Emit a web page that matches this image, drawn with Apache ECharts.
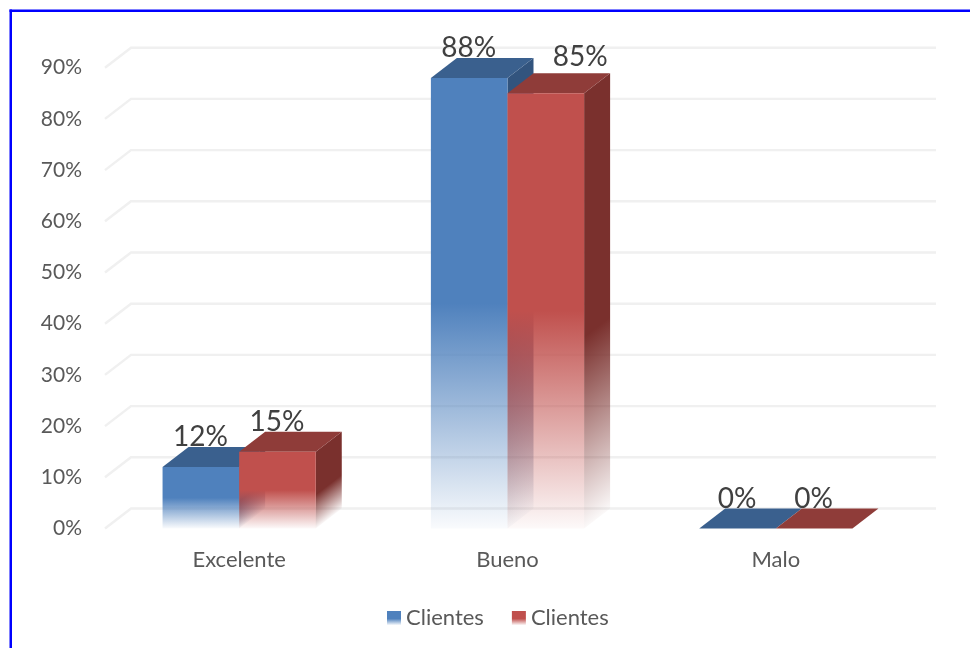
<!DOCTYPE html>
<html>
<head>
<meta charset="utf-8">
<style>html,body{margin:0;padding:0;background:#fff}#c{width:970px;height:648px}</style>
<script src="https://cdn.jsdelivr.net/npm/echarts@6/dist/echarts.min.js"></script>
</head>
<body>
<div id="c"></div>
<script>
const categories = ['Excelente', 'Bueno', 'Malo'];
const seriesA = [12, 88, 0];
const seriesB = [15, 85, 0];
const yTicks = [0, 10, 20, 30, 40, 50, 60, 70, 80, 90];
const legendLabel = 'Clientes';

const DX = 26, DY = -20, FONT = 'Lato, Carlito, "Open Sans", sans-serif';
const BLUE = { front: [79, 129, 189], top: [58, 96, 142], side: [50, 84, 126] };
const RED = { front: [192, 80, 77], top: [143, 60, 57], side: [122, 48, 45] };
const rgba = (c, a) => `rgba(${c[0]},${c[1]},${c[2]},${a})`;
const fade = (c) => [
  { offset: 0, color: rgba(c, 1) },
  { offset: 1, color: rgba(c, 0.03) }
];

function bar3d(palette, slot, shifts) {
  return function (params, api) {
    const i = api.value(0), v = api.value(1);
    const p0 = api.coord([i, 0]), p1 = api.coord([i, v]);
    const w = api.size([1, 0])[0] * 0.2855;
    const x0 = p0[0] + slot * w, x1 = x0 + w, yb = p0[1], yt = p1[1];
    const h = yb - yt, ys = yb - h * 0.5;
    const children = [];
    if (h > 0.5) {
      const sideStart = yb - h * 0.44;
      const t = (yb - sideStart) * 26 / (20 * 20 + 26 * 26);
      children.push({
        type: 'polygon',
        shape: { points: [[x1, yb], [x1 + DX, yb + DY], [x1 + DX, yt + DY], [x1, yt]] },
        style: { fill: new echarts.graphic.LinearGradient(x1, sideStart, x1 + 20 * t, sideStart + 26 * t, fade(palette.side), true) }
      });
    }
    children.push({
      type: 'polygon',
      shape: { points: [[x0, yt], [x1, yt], [x1 + DX, yt + DY], [x0 + DX, yt + DY]] },
      style: { fill: rgba(palette.top, 1) }
    });
    if (h > 0.5) {
      children.push({
        type: 'rect',
        shape: { x: x0, y: yt, width: w, height: h },
        style: { fill: new echarts.graphic.LinearGradient(0, ys, 0, yb, fade(palette.front), true) }
      });
    }
    const s = shifts[i] || [0, 0];
    children.push({
      type: 'text',
      z2: 10,
      style: {
        text: Math.round(v) + '%',
        x: x0 + w / 2 - 0.5 + s[0],
        y: yt + DY - 10 + s[1],
        align: 'center',
        verticalAlign: 'middle',
        fill: '#404040',
        font: '28px ' + FONT
      }
    });
    return { type: 'group', children };
  };
}

function wall(params, api) {
  const y = api.coord([0, api.value(1)])[1];
  const cs = params.coordSys;
  return {
    type: 'polyline',
    shape: { points: [[cs.x, y], [cs.x + DX, y + DY], [cs.x + cs.width + DX, y + DY]] },
    style: { fill: null, stroke: '#f0f0f0', lineWidth: 2.4 }
  };
}

const legendItem = (c, name) => ({
  name,
  icon: 'rect',
  itemStyle: { color: new echarts.graphic.LinearGradient(0, 0, 0, 1, [
    { offset: 0, color: rgba(c, 1) },
    { offset: 0.55, color: rgba(c, 1) },
    { offset: 1, color: rgba(c, 0.05) }
  ]) }
});

const chart = echarts.init(document.getElementById('c'), null, { width: 970, height: 648, renderer: 'canvas' });
chart.setOption({
  animation: false,
  backgroundColor: '#fff',
  grid: { left: 105, top: 67.7, width: 805, height: 460.8 },
  graphic: [
    { type: 'rect', shape: { x: 9.5, y: 9.5, width: 2.5, height: 640 }, style: { fill: '#0000ff' }, z: 100 },
    { type: 'rect', shape: { x: 9.5, y: 9.5, width: 961, height: 2.5 }, style: { fill: '#0000ff' }, z: 100 }
  ],
  legend: {
    left: 382, top: 602, padding: 5, itemWidth: 14, itemHeight: 14, itemGap: 28, selectedMode: false,
    formatter: () => legendLabel,
    textStyle: { fontFamily: FONT, fontSize: 22, color: '#595959' },
    data: [legendItem(BLUE.front, 'Clientes A'), legendItem(RED.front, 'Clientes B')]
  },
  xAxis: {
    type: 'category', data: categories,
    axisLine: { show: false }, axisTick: { show: false }, splitLine: { show: false },
    axisLabel: { margin: 20, fontFamily: FONT, fontSize: 22, color: '#595959' }
  },
  yAxis: {
    type: 'value', min: 0, max: 90, interval: 10,
    axisLine: { show: false }, axisTick: { show: false }, splitLine: { show: false },
    axisLabel: { margin: 23, formatter: '{value}%', fontFamily: FONT, fontSize: 21, color: '#595959' }
  },
  series: [
    { type: 'custom', name: 'wall', silent: true, z: 1, renderItem: wall,
      encode: { x: 0, y: 1 }, data: yTicks.map(v => [0, v]) },
    { type: 'custom', name: 'Clientes A', silent: true, z: 2, renderItem: bar3d(BLUE, -1, {}),
      encode: { x: 0, y: 1 }, data: seriesA.map((v, i) => [i, v]) },
    { type: 'custom', name: 'Clientes B', silent: true, z: 3, renderItem: bar3d(RED, 0, { 1: [35, -6] }),
      encode: { x: 0, y: 1 }, data: seriesB.map((v, i) => [i, v]) }
  ]
});
</script>
</body>
</html>
